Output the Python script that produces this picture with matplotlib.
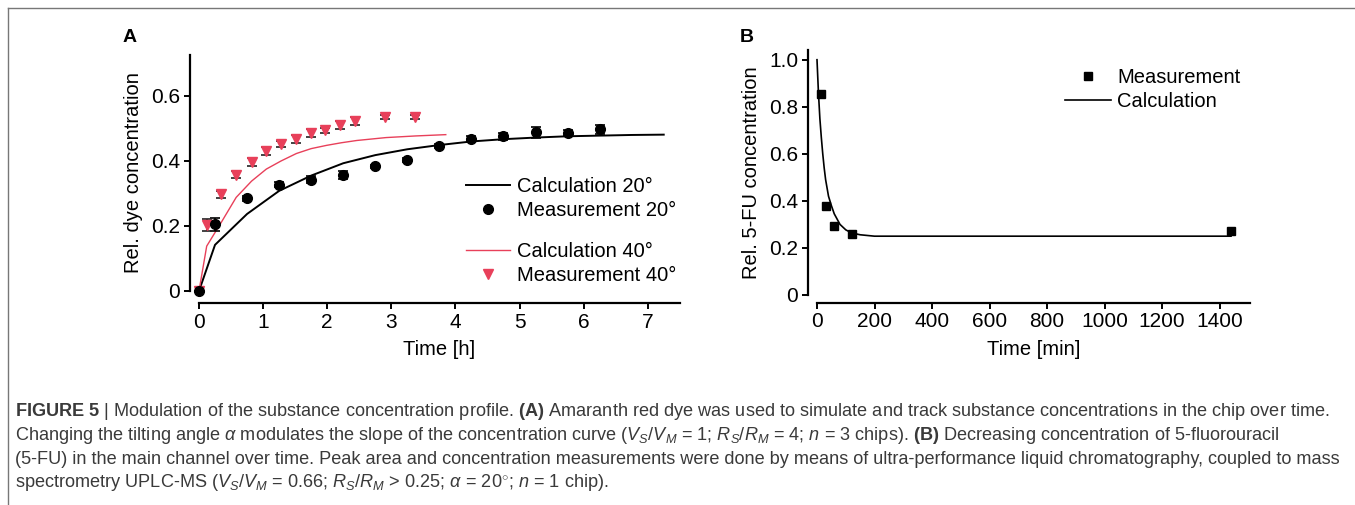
import matplotlib
matplotlib.use('Agg')
import matplotlib.pyplot as plt
from matplotlib.lines import Line2D

plt.rcParams['font.family'] = ['Liberation Sans', 'DejaVu Sans']
plt.rcParams['mathtext.fontset'] = 'custom'
plt.rcParams['mathtext.rm'] = 'Liberation Sans'
plt.rcParams['mathtext.it'] = 'Liberation Sans:italic'
plt.rcParams['mathtext.bf'] = 'Liberation Sans:bold'

# ---- panel A data ----
t_meas20 = [0, 0.25, 0.75, 1.25, 1.75, 2.25, 2.75, 3.25, 3.75, 4.25, 4.75, 5.25, 5.75, 6.25]
c_meas20 = [0, 0.206, 0.285, 0.327, 0.343, 0.358, 0.383, 0.402, 0.447, 0.469, 0.476, 0.488, 0.486, 0.497]
e_meas20 = [0, 0.02, 0.008, 0.008, 0.012, 0.012, 0.006, 0.006, 0.006, 0.008, 0.01, 0.018, 0.01, 0.014]

t_meas40 = [0, 0.12, 0.35, 0.58, 0.82, 1.05, 1.28, 1.52, 1.75, 1.97, 2.2, 2.44, 2.9, 3.37]
c_meas40 = [0, 0.204, 0.297, 0.358, 0.396, 0.43, 0.452, 0.468, 0.485, 0.494, 0.511, 0.523, 0.536, 0.536]
e_meas40 = [0, 0.018, 0.012, 0.01, 0.012, 0.012, 0.008, 0.012, 0.012, 0.008, 0.012, 0.012, 0.006, 0.006]

t_calc20 = [0, 0.25, 0.75, 1.25, 1.75, 2.25, 2.75, 3.25, 3.75, 4.25, 4.75, 5.25, 5.75, 6.25, 6.75, 7.25]
c_calc20 = [0, 0.142, 0.237, 0.308, 0.355, 0.393, 0.418, 0.436, 0.449, 0.46, 0.467, 0.472, 0.476, 0.478, 0.48, 0.481]

t_calc40 = [0, 0.12, 0.35, 0.58, 0.82, 1.05, 1.28, 1.52, 1.75, 1.99, 2.22, 2.46, 2.92, 3.38, 3.85]
c_calc40 = [0, 0.138, 0.212, 0.288, 0.338, 0.375, 0.40, 0.423, 0.438, 0.448, 0.456, 0.463, 0.472, 0.477, 0.481]

# ---- panel B data ----
t_fu_meas = [15, 30, 60, 120, 1440]
c_fu_meas = [0.854, 0.38, 0.292, 0.259, 0.272]

t_fu_calc = [0, 5, 10, 15, 20, 25, 30, 40, 50, 60, 80, 100, 120, 150, 200, 300, 600, 1000, 1440]
c_fu_calc = [1.0, 0.86, 0.75, 0.67, 0.6, 0.54, 0.49, 0.42, 0.38, 0.345, 0.30, 0.277, 0.264, 0.256, 0.25, 0.25, 0.25, 0.25, 0.25]

caption_lines = [
    r"$\mathbf{FIGURE\ 5}$ | Modulation of the substance concentration profile. $\mathbf{(A)}$ Amaranth red dye was used to simulate and track substance concentrations in the chip over time.",
    r"Changing the tilting angle $\alpha$ modulates the slope of the concentration curve ($V_S/V_M$ = 1; $R_S/R_M$ = 4; $n$ = 3 chips). $\mathbf{(B)}$ Decreasing concentration of 5-fluorouracil",
    r"(5-FU) in the main channel over time. Peak area and concentration measurements were done by means of ultra-performance liquid chromatography, coupled to mass",
    r"spectrometry UPLC-MS ($V_S/V_M$ = 0.66; $R_S/R_M$ > 0.25; $\alpha$ = 20$^{\circ}$; $n$ = 1 chip).",
]

RED = '#e8405a'
FS = 14.5

fig = plt.figure(figsize=(13.55, 5.05), dpi=100)

# frame lines of the figure box
fig.add_artist(Line2D([8 / 1355, 1], [1 - 8 / 505, 1 - 8 / 505], transform=fig.transFigure, color='#777777', lw=1))
fig.add_artist(Line2D([8 / 1355, 8 / 1355], [0, 1 - 8 / 505], transform=fig.transFigure, color='#777777', lw=1))


def style_axes(ax, left_off, bottom_off):
    for s in ['top', 'right']:
        ax.spines[s].set_visible(False)
    ax.spines['left'].set_position(('outward', left_off))
    ax.spines['bottom'].set_position(('outward', bottom_off))
    for s in ['left', 'bottom']:
        ax.spines[s].set_linewidth(1.6)
    ax.tick_params(direction='out', length=4, width=1.4, labelsize=15, pad=3)


# ---------------- panel A ----------------
axA = fig.add_axes([199 / 1355, 1 - 291 / 505, 480.75 / 1355, 236 / 505])
style_axes(axA, 6.5, 8.5)

axA.plot(t_calc20, c_calc20, color='black', lw=1.4, clip_on=False)
axA.plot(t_calc40, c_calc40, color=RED, lw=1.0, clip_on=False)
axA.errorbar(t_meas20, c_meas20, yerr=e_meas20, fmt='o', color='black', ms=7,
             ecolor='black', elinewidth=1.2, capsize=3.5, capthick=1.2, clip_on=False)
axA.errorbar(t_meas40, c_meas40, yerr=e_meas40, fmt='none',
             ecolor='#222222', elinewidth=1.2, capsize=3.5, capthick=1.2, clip_on=False)
axA.plot(t_meas40, c_meas40, 'v', color=RED, ms=7.5, ls='none', clip_on=False)

axA.set_xlim(0, 7.5)
axA.set_ylim(0, 0.726)
axA.set_xticks(range(8))
axA.set_yticks([0, 0.2, 0.4, 0.6])
axA.set_yticklabels(['0', '0.2', '0.4', '0.6'])
axA.set_xlabel('Time [h]', fontsize=FS, labelpad=6)
axA.set_ylabel('Rel. dye concentration', fontsize=FS, labelpad=6)

h20 = [Line2D([], [], color='black', lw=1.4),
       Line2D([], [], color='black', marker='o', ls='none', ms=7)]
h40 = [Line2D([], [], color=RED, lw=1.0),
       Line2D([], [], color=RED, marker='v', ls='none', ms=7.5)]
leg1 = axA.legend(h20, ['Calculation 20°', 'Measurement 20°'], loc='upper left',
                  bbox_to_anchor=(0.534, 0.525), frameon=False, fontsize=FS,
                  handlelength=2.2, handletextpad=0.35, labelspacing=0.25, borderpad=0)
axA.add_artist(leg1)
axA.legend(h40, ['Calculation 40°', 'Measurement 40°'], loc='upper left',
           bbox_to_anchor=(0.534, 0.25), frameon=False, fontsize=FS,
           handlelength=2.2, handletextpad=0.35, labelspacing=0.25, borderpad=0)

# ---------------- panel B ----------------
axB = fig.add_axes([817 / 1355, 1 - 295 / 505, 432.7 / 1355, 245.4 / 505])
style_axes(axB, 6.5, 5.5)

axB.plot(t_fu_calc, c_fu_calc, color='black', lw=1.2, clip_on=False)
axB.plot(t_fu_meas, c_fu_meas, 's', color='black', ms=6, ls='none', clip_on=False)

axB.set_xlim(0, 1505)
axB.set_ylim(0, 1.043)
axB.set_xticks(range(0, 1401, 200))
axB.set_yticks([0, 0.2, 0.4, 0.6, 0.8, 1.0])
axB.set_yticklabels(['0', '0.2', '0.4', '0.6', '0.8', '1.0'])
axB.set_xlabel('Time [min]', fontsize=FS, labelpad=6)
axB.set_ylabel('Rel. 5-FU concentration', fontsize=FS, labelpad=6)

hB = [Line2D([], [], color='black', marker='s', ls='none', ms=6),
      Line2D([], [], color='black', lw=1.2)]
axB.legend(hB, ['Measurement', 'Calculation'], loc='upper left',
           bbox_to_anchor=(0.55, 0.965), frameon=False, fontsize=FS,
           handlelength=2.3, handletextpad=0.3, labelspacing=0.25, borderpad=0)

# panel letters
fig.text(130 / 1355, 1 - 37 / 505, 'A', fontsize=14, fontweight='bold', ha='center', va='center')
fig.text(747 / 1355, 1 - 37 / 505, 'B', fontsize=14, fontweight='bold', ha='center', va='center')

# caption
for i, line in enumerate(caption_lines):
    fig.text(15 / 1355, 1 - (412 + i * 23.5) / 505, line, fontsize=13.1,
             color='#3a3a3a', ha='left', va='center')

fig.savefig('out.png', dpi=100)
